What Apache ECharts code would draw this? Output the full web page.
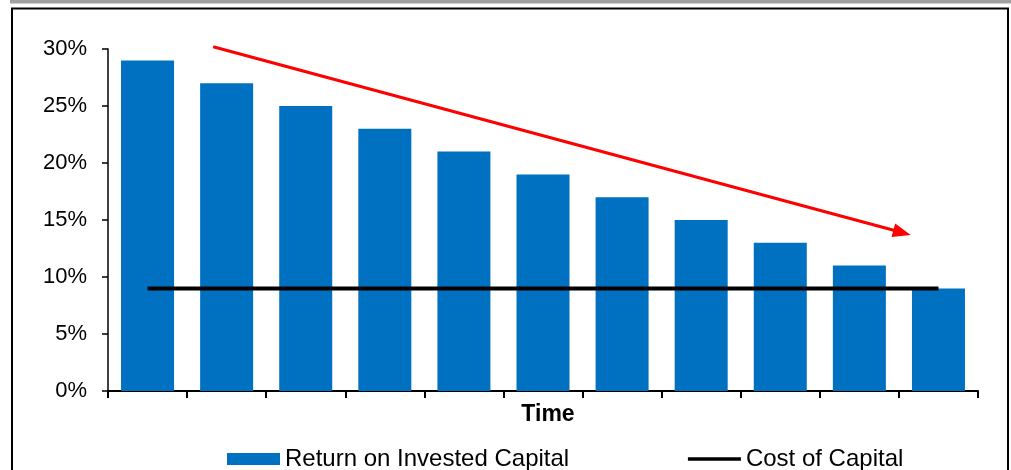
<!DOCTYPE html>
<html>
<head>
<meta charset="utf-8">
<script src="https://cdn.jsdelivr.net/npm/echarts@6/dist/echarts.min.js"></script>
<style>
  html, body { margin: 0; padding: 0; background: #fff; }
  #chart { width: 1011px; height: 470px; }
</style>
</head>
<body>
<div id="chart"></div>
<script>
// Periods along the time axis (labels are not drawn)
const periods = ['P1', 'P2', 'P3', 'P4', 'P5', 'P6', 'P7', 'P8', 'P9', 'P10', 'P11'];
// Return on invested capital per period, in %
const roic = [29, 27, 25, 23, 21, 19, 17, 15, 13, 11, 9];
// Cost of capital per period, in %
const costOfCapital = [9, 9, 9, 9, 9, 9, 9, 9, 9, 9, 9];
// Trend arrow: start and end as [period position, %]
const trendStart = [0.83, 30.2];
const trendEnd = [9.54, 13.9];
// Y axis ticks
const yTicks = { min: 0, max: 30, step: 5 };

const chart = echarts.init(document.getElementById('chart'), null, { renderer: 'canvas' });

const font = 'Liberation Sans, Arial, sans-serif';

const option = {
  animation: false,
  backgroundColor: '#ffffff',
  graphic: [
    { type: 'rect', shape: { x: 10, y: 0, width: 1001, height: 3.5 }, style: { fill: '#a0a0a0' }, z: 0 },
    { type: 'rect', shape: { x: 12, y: 8.5, width: 996, height: 470 }, style: { fill: 'none', stroke: '#000', lineWidth: 2 }, z: 0 }
  ],
  grid: { left: 108, right: 33, top: 49, bottom: 79, containLabel: false },
  legend: {
    data: [
      { name: 'Return on Invested Capital', icon: 'rect' },
      {
        name: 'Cost of Capital',
        itemStyle: { color: 'rgba(0,0,0,0)', borderWidth: 0 },
        lineStyle: { color: '#000', width: 3.5 }
      }
    ],
    left: 227,
    top: 447,
    padding: 0,
    itemWidth: 53,
    itemHeight: 12,
    itemGap: 117,
    textStyle: { fontFamily: font, fontSize: 24, color: '#000' },
    selectedMode: false
  },
  xAxis: [
    {
      type: 'category',
      data: periods,
      boundaryGap: true,
      name: 'Time',
      nameLocation: 'middle',
      nameGap: 12,
      nameTextStyle: { fontFamily: font, fontSize: 23, fontWeight: 'bold', color: '#000', padding: [0, 0, 0, 10] },
      axisLine: { lineStyle: { color: '#000', width: 2 } },
      axisTick: { show: true, inside: false, length: 7, interval: 0, lineStyle: { color: '#000', width: 2 } },
      axisLabel: { show: false },
      splitLine: { show: false }
    },
    {
      type: 'value',
      min: -0.5,
      max: 10.5,
      show: false
    }
  ],
  yAxis: {
    type: 'value',
    min: yTicks.min,
    max: yTicks.max,
    interval: yTicks.step,
    axisLine: { show: true, onZero: false, lineStyle: { color: '#000', width: 1.5 } },
    axisTick: { show: true, length: 6, lineStyle: { color: '#000', width: 1.5 } },
    axisLabel: {
      fontFamily: font,
      fontSize: 22,
      color: '#000',
      margin: 21,
      formatter: v => v + '%'
    },
    splitLine: { show: false }
  },
  series: [
    {
      name: 'Return on Invested Capital',
      type: 'bar',
      data: roic,
      barWidth: 53,
      itemStyle: { color: '#0070C0' },
      z: 2
    },
    {
      name: 'Cost of Capital',
      type: 'line',
      data: costOfCapital,
      symbol: 'none',
      lineStyle: { color: '#000', width: 4 },
      itemStyle: { color: '#000' },
      z: 3
    },
    {
      name: 'Trend',
      type: 'line',
      xAxisIndex: 1,
      data: [trendStart, { value: trendEnd, symbol: 'triangle' }],
      symbol: 'none',
      symbolSize: [14, 18],
      showSymbol: true,
      clip: false,
      itemStyle: { color: '#ff0000' },
      lineStyle: { color: '#ff0000', width: 3 },
      silent: true,
      z: 4
    }
  ]
};
chart.setOption(option);

// Turn the arrowhead along the trend line, using the axes' own pixel mapping
const p0 = chart.convertToPixel({ xAxisIndex: 1, yAxisIndex: 0 }, trendStart);
const p1 = chart.convertToPixel({ xAxisIndex: 1, yAxisIndex: 0 }, trendEnd);
const angle = Math.atan2(-(p1[0] - p0[0]), -(p1[1] - p0[1])) * 180 / Math.PI;
chart.setOption({
  series: [{}, {}, {
    data: [trendStart, { value: trendEnd, symbol: 'triangle', symbolRotate: angle }]
  }]
});
</script>
</body>
</html>
